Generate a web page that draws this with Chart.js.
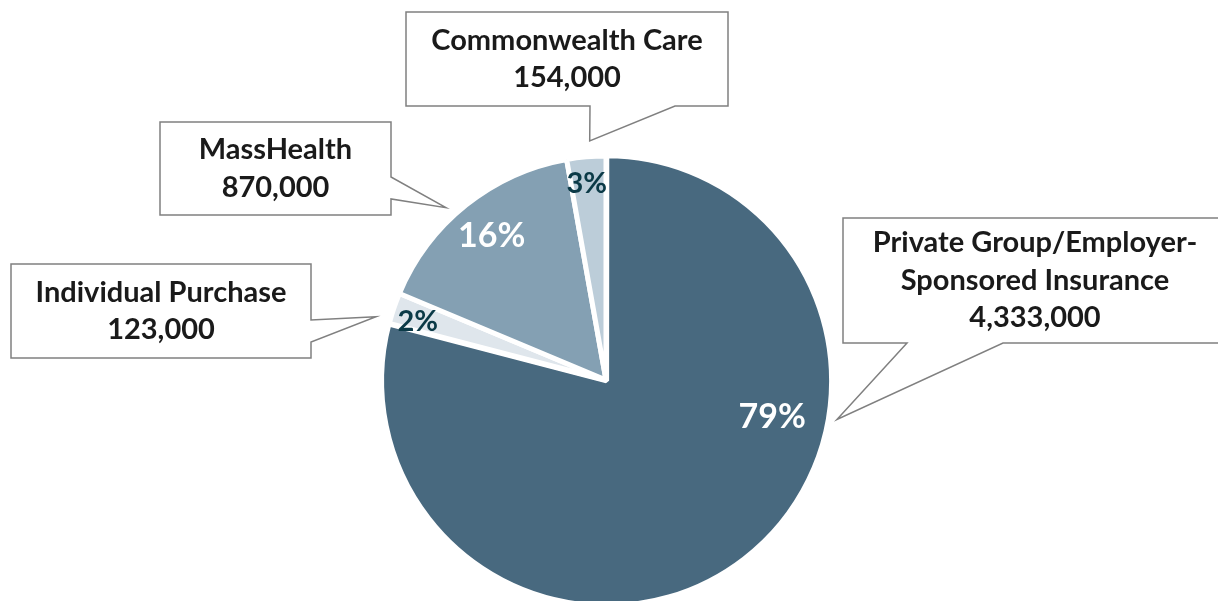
<!DOCTYPE html>
<html>
<head>
<meta charset="utf-8">
<script src="https://cdn.jsdelivr.net/npm/chart.js@4.4.1/dist/chart.umd.min.js"></script>
<style>
    html, body { margin: 0; padding: 0; background: #fff; overflow: hidden; }
    #wrap { width: 1218px; height: 620px; position: relative; }
</style>
</head>
<body>
<div id="wrap"><canvas id="pie" width="1218" height="620"></canvas></div>
<script>
// data
const categories = ['Private Group/Employer-Sponsored Insurance', 'Individual Purchase', 'MassHealth', 'Commonwealth Care'];
const enrollment = [4333000, 123000, 870000, 154000];
const percentLabels = ['79%', '2%', '16%', '3%'];
const calloutLines = [
    ['Private Group/Employer-', 'Sponsored Insurance', '4,333,000'],
    ['Individual Purchase', '123,000'],
    ['MassHealth', '870,000'],
    ['Commonwealth Care', '154,000']
];

const sliceColors = ['#48697f', '#dfe6ec', '#84a0b3', '#bccdd9'];
const pctColors = ['#ffffff', '#0b3a47', '#ffffff', '#0b3a47'];
const pctFonts = ['bold 34px Lato', 'bold 29px Lato', 'bold 34px Lato', 'bold 29px Lato'];
// label place: angle (deg clockwise from top) and fraction of radius
const pctPlace = [[102.6, 0.76], [287.3, 0.88], [321.5, 0.82], [354.4, 0.88]];

// callout boxes: rect, which side the pointer leaves from, pointer base, tip (angle, radius fraction)
const callouts = [
    { x: 843, y: 218, w: 385, h: 125, side: 'bottom', b0: 907, b1: 1003, tip: [99.7, 1.046] },
    { x: 11, y: 264, w: 300, h: 94, side: 'right', b0: 320, b1: 342, tip: [285.4, 1.065] },
    { x: 160, y: 122, w: 231, h: 93, side: 'right', b0: 177, b1: 199, tip: [317.1, 1.05] },
    { x: 406, y: 12, w: 322, h: 94, side: 'bottom', b0: 590, b1: 675, tip: [356.1, 1.07] }
];

function polar(arc, deg, frac) {
    const a = (deg - 90) * Math.PI / 180;
    const r = arc.outerRadius * frac;
    return { x: arc.x + Math.cos(a) * r, y: arc.y + Math.sin(a) * r };
}

const calloutPlugin = {
    id: 'callouts',
    afterDraw(chart) {
        const ctx = chart.ctx;
        const arcs = chart.getDatasetMeta(0).data;
        const ref = arcs[1]; // non-offset slice gives the true centre
        ctx.save();

        // percent labels
        ctx.textAlign = 'center';
        ctx.textBaseline = 'middle';
        percentLabels.forEach((t, i) => {
            const p = polar(ref, pctPlace[i][0], pctPlace[i][1]);
            ctx.font = pctFonts[i];
            ctx.fillStyle = pctColors[i];
            ctx.fillText(t, p.x, p.y);
        });

        // callout boxes
        callouts.forEach((c, i) => {
            const tip = polar(ref, c.tip[0], c.tip[1]);
            const x0 = c.x, y0 = c.y, x1 = c.x + c.w, y1 = c.y + c.h;
            ctx.beginPath();
            ctx.moveTo(x0, y0);
            ctx.lineTo(x1, y0);
            if (c.side === 'right') {
                ctx.lineTo(x1, c.b0);
                ctx.lineTo(tip.x, tip.y);
                ctx.lineTo(x1, c.b1);
            }
            ctx.lineTo(x1, y1);
            if (c.side === 'bottom') {
                ctx.lineTo(c.b1, y1);
                ctx.lineTo(tip.x, tip.y);
                ctx.lineTo(c.b0, y1);
            }
            ctx.lineTo(x0, y1);
            ctx.closePath();
            ctx.fillStyle = '#ffffff';
            ctx.fill();
            ctx.strokeStyle = '#808080';
            ctx.lineWidth = 1.5;
            ctx.stroke();

            const lines = calloutLines[i];
            const lh = 37.5;
            const cx = c.side === 'bottom' && i === 0 ? 1035 : (x0 + x1) / 2;
            const cy = (y0 + y1) / 2;
            ctx.font = 'bold 29px Lato';
            ctx.fillStyle = '#1a1a1a';
            lines.forEach((ln, k) => {
                ctx.fillText(ln, cx, cy + (k - (lines.length - 1) / 2) * lh);
            });
        });
        ctx.restore();
    }
};

new Chart(document.getElementById('pie'), {
    type: 'pie',
    data: {
        labels: categories,
        datasets: [{
            data: enrollment,
            backgroundColor: sliceColors,
            borderColor: '#ffffff',
            borderWidth: 5,
            offset: [4, 0, 0, 0],
            radius: 224
        }]
    },
    options: {
        responsive: false,
        animation: false,
        layout: { padding: { left: 0, right: 6, top: 156, bottom: 16 } },
        plugins: {
            legend: { display: false },
            tooltip: { enabled: false }
        }
    },
    plugins: [calloutPlugin]
});
</script>
</body>
</html>
